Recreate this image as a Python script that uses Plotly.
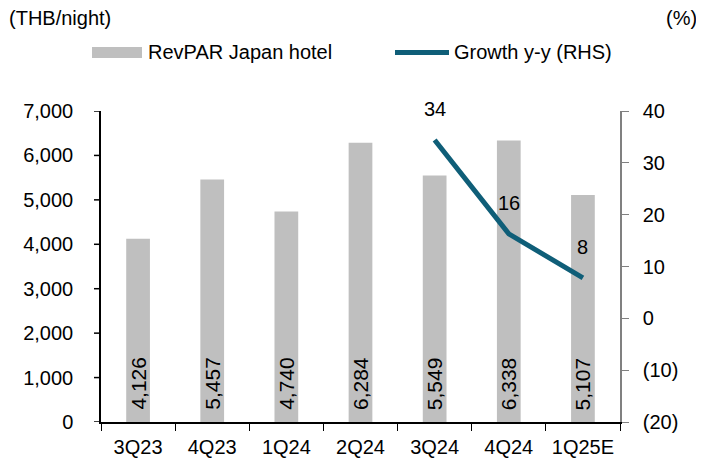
import plotly.graph_objects as go

quarters = ["3Q23", "4Q23", "1Q24", "2Q24", "3Q24", "4Q24", "1Q25E"]
revpar = [4126, 5457, 4740, 6284, 5549, 6338, 5107]
growth_quarters = ["3Q24", "4Q24", "1Q25E"]
growth = [34.4, 16.3, 7.8]
lhs_ticks = [0, 1000, 2000, 3000, 4000, 5000, 6000, 7000]
rhs_ticks = [-20, -10, 0, 10, 20, 30, 40]
rhs_ticktext = ["(20)", "(10)", "0", "10", "20", "30", "40"]

FONT = "Liberation Sans, Arial, sans-serif"
FS = 20
BAR_COLOUR = "#BFBFBF"
LINE_COLOUR = "#0F5E78"

# the page body has an 8px margin, so the figure is drawn 8px smaller
W, H = 696, 456
OFF = 8

fig = go.Figure()

fig.add_trace(go.Bar(
    x=quarters,
    y=revpar,
    name="RevPAR Japan hotel",
    marker=dict(color=BAR_COLOUR, line=dict(width=0)),
    width=0.32,
    showlegend=False,
))

fig.add_trace(go.Scatter(
    x=growth_quarters,
    y=growth,
    name="Growth y-y (RHS)",
    yaxis="y2",
    mode="lines",
    line=dict(color=LINE_COLOUR, width=5),
    showlegend=False,
))

# plot area in screen pixels: x 101..620, y 111..422
def px_x(p):
    return (p - 101) / 519

def px_y(p):
    return (422 - p) / 311

shapes = [
    dict(type="rect", xref="paper", yref="paper",
         x0=px_x(92), x1=px_x(142), y0=px_y(58), y1=px_y(47),
         fillcolor=BAR_COLOUR, line=dict(width=0)),
    dict(type="line", xref="paper", yref="paper",
         x0=px_x(395), x1=px_x(449), y0=px_y(52.5), y1=px_y(52.5),
         line=dict(color=LINE_COLOUR, width=5)),
]
# short visible tick marks on the left axis (the real ticks are long and white
# so the labels sit further from the axis, as in the original)
for t in lhs_ticks:
    shapes.append(dict(type="line", xref="paper", yref="y",
                       x0=px_x(94), x1=0, y0=t, y1=t,
                       line=dict(color="black", width=1.5)))

txt = dict(size=FS, family=FONT, color="black")
annotations = [
    dict(text="RevPAR Japan hotel", xref="paper", yref="paper",
         x=px_x(146), y=px_y(52), xanchor="left", yanchor="middle",
         showarrow=False, font=txt),
    dict(text="Growth y-y (RHS)", xref="paper", yref="paper",
         x=px_x(452), y=px_y(52), xanchor="left", yanchor="middle",
         showarrow=False, font=txt),
    dict(text="(THB/night)", xref="paper", yref="paper",
         x=px_x(7), y=px_y(18), xanchor="left", yanchor="middle",
         showarrow=False, font=txt),
    dict(text="(%)", xref="paper", yref="paper",
         x=px_x(699), y=px_y(18), xanchor="right", yanchor="middle",
         showarrow=False, font=txt),
]

# bar value labels, rotated, sitting near the base of each bar
for q, v in zip(quarters, revpar):
    annotations.append(dict(
        text=f"{v:,}", x=q, y=0, xref="x", yref="y",
        textangle=-90, xanchor="center", yanchor="bottom", yshift=10,
        showarrow=False, font=dict(size=21, family=FONT, color="black"),
    ))

# growth labels centred above each point
for q, g in zip(growth_quarters, growth):
    annotations.append(dict(
        text=f"{g:.0f}", x=q, y=g, xref="x", yref="y2",
        yshift=31, showarrow=False, font=txt,
    ))

axis_common = dict(
    showline=True, linewidth=1.5, ticks="outside",
    showgrid=False, tickfont=dict(size=FS), automargin=False,
)

fig.update_layout(
    width=W,
    height=H,
    margin=dict(l=101 - OFF, r=W - (620 - OFF), t=111 - OFF,
                b=H - (422 - OFF), autoexpand=False),
    paper_bgcolor="white",
    plot_bgcolor="white",
    font=dict(family=FONT, size=FS, color="black"),
    shapes=shapes,
    annotations=annotations,
    xaxis=dict(
        type="category",
        categoryorder="array",
        categoryarray=quarters,
        linecolor="black",
        tickcolor="black",
        ticklen=7,
        tickson="boundaries",
        ticklabelstandoff=6,
        **axis_common,
    ),
    yaxis=dict(
        range=[0, 7000],
        tickmode="array",
        tickvals=lhs_ticks,
        tickformat=",",
        linecolor="black",
        tickcolor="white",
        ticklen=22,
        zeroline=False,
        **axis_common,
    ),
    yaxis2=dict(
        overlaying="y",
        side="right",
        range=[-20, 40],
        tickmode="array",
        tickvals=rhs_ticks,
        ticktext=rhs_ticktext,
        linecolor="#808080",
        tickcolor="#808080",
        ticklen=7,
        zeroline=False,
        ticklabelstandoff=10,
        **axis_common,
    ),
)

fig.write_html("out.html")
